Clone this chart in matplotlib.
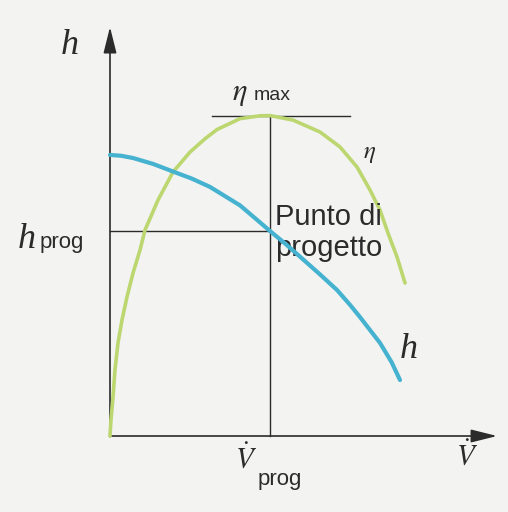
import matplotlib
matplotlib.use("Agg")
import matplotlib.pyplot as plt

plt.rcParams['font.family'] = ['Liberation Sans', 'DejaVu Sans']
plt.rcParams['mathtext.fontset'] = 'stix'

# portata (V_prog = 1) e prevalenza h (h_prog = 1)
V_h = [0.0, 0.07, 0.144, 0.27, 0.394, 0.51, 0.625, 0.8125, 0.9, 1.0, 1.1, 1.206,
       1.31, 1.419, 1.5, 1.5625, 1.6875, 1.76, 1.8125]
h = [1.371, 1.367, 1.356, 1.327, 1.290, 1.256, 1.215, 1.125, 1.067, 1.0, 0.935, 0.862,
     0.79, 0.712, 0.64, 0.580, 0.454, 0.36, 0.273]

# rendimento eta, stessa scala verticale
V_eta = [0.0, 0.006, 0.019, 0.031, 0.05, 0.075, 0.106, 0.144, 0.1875, 0.219, 0.3,
         0.394, 0.5, 0.594, 0.669, 0.8125, 0.9375, 1.0, 1.144, 1.3125, 1.4375, 1.544,
         1.625, 1.6875, 1.7375, 1.794, 1.844]
eta = [0.0, 0.078, 0.190, 0.322, 0.454, 0.566, 0.678, 0.795, 0.907, 1.005, 1.151,
       1.288, 1.385, 1.45, 1.495, 1.548, 1.562, 1.563, 1.541, 1.483, 1.410, 1.312,
       1.2, 1.102, 0.990, 0.873, 0.746]

V_prog = 1.0
h_prog = 1.0
eta_max = 1.563

fig = plt.figure(figsize=(5.08, 5.12), dpi=100)
fig.patch.set_facecolor('#f3f3f1')
ax = fig.add_axes([0, 0, 1, 1])
ax.set_xlim(-0.6875, 2.4875)
ax.set_ylim(-0.3707, 2.1268)
ax.axis('off')

ink = '#2b2b2b'
hfont = dict(family='Liberation Serif', style='italic', fontsize=26, color=ink)

# assi con frecce
ax.annotate('', xy=(0, 1.995), xytext=(0, -0.003),
            arrowprops=dict(arrowstyle='-|>,head_length=1.6,head_width=0.4',
                            lw=1.2, color=ink, shrinkA=0, shrinkB=0))
ax.annotate('', xy=(2.419, 0), xytext=(-0.003, 0),
            arrowprops=dict(arrowstyle='-|>,head_length=1.6,head_width=0.4',
                            lw=1.2, color=ink, shrinkA=0, shrinkB=0))

# linee di riferimento del punto di progetto
ax.plot([V_prog, V_prog], [0, eta_max], color=ink, lw=1.0)
ax.plot([0, V_prog], [h_prog, h_prog], color=ink, lw=1.0)
ax.plot([0.6375, 1.5], [eta_max, eta_max], color=ink, lw=1.0)

# curve
ax.plot(V_eta, eta, color='#bcd770', lw=2.6, solid_capstyle='round',
        solid_joinstyle='round', zorder=3)
ax.plot(V_h, h, color='#45b2d0', lw=3.0, solid_capstyle='round',
        solid_joinstyle='round', zorder=4)

# etichette
ax.text(-0.25, 1.907, 'h', ha='center', va='center', **hfont)
ax.text(-0.58, 0.917, 'h', ha='left', va='baseline', **hfont)
ax.text(-0.44, 0.917, 'prog', fontsize=16, color=ink, ha='left', va='baseline')

ax.text(0.765, 1.639, r'$\eta$', fontsize=22, color=ink, ha='left', va='baseline')
ax.text(0.90, 1.639, 'max', fontsize=14, color=ink, ha='left', va='baseline')
ax.text(1.625, 1.38, r'$\eta$', fontsize=18, color=ink, ha='center', va='center')

ax.text(1.031, 1.137, 'Punto di\nprogetto', fontsize=21, color=ink, ha='left', va='top',
        linespacing=1.12)
ax.text(1.87, 0.424, 'h', ha='center', va='center', **hfont)

ax.text(0.85, -0.107, r'$\dot{V}$', fontsize=21, color=ink, ha='center', va='center')
ax.text(0.92, -0.239, 'prog', fontsize=16, color=ink, ha='left', va='baseline')
ax.text(2.23, -0.093, r'$\dot{V}$', fontsize=21, color=ink, ha='center', va='center')

fig.savefig('out.png', dpi=100, facecolor=fig.get_facecolor())
